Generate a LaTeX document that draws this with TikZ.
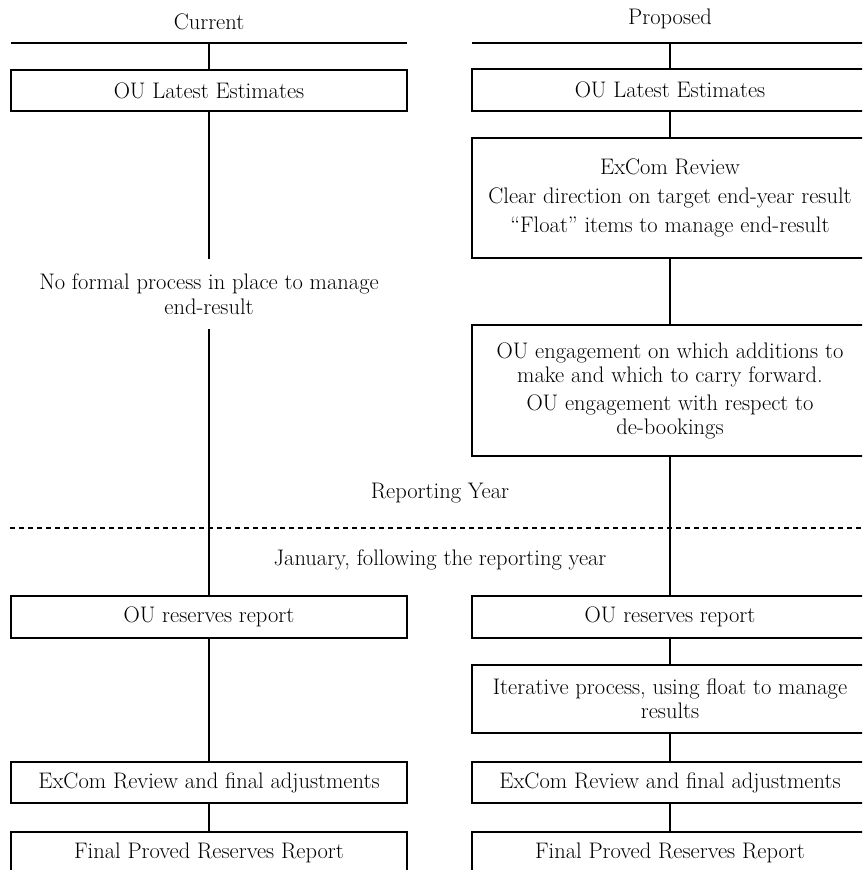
\documentclass[tikz,border=0pt]{standalone}
\newcommand\txtsize{\fontsize{22.5}{24}\selectfont}
\begin{document}
\begin{tikzpicture}[x=1pt,y=-1pt,
  box/.style={draw, line width=1.5pt, minimum width=396pt, align=center, inner sep=0pt, font=\txtsize},
  conn/.style={line width=1.3pt},
  lbl/.style={align=center, inner sep=0pt, font=\txtsize},
  divider/.style={line width=1.1pt, dash pattern=on 5pt off 4pt}]
\clip (0,0) rectangle (862,870);
% headings
\node[lbl] (curr) at (209,22) {Current};
\node[lbl] (prop) at (670,19) {Proposed};
\coordinate (hL1) at (11,43);
\coordinate (hL2) at (407,43);
\coordinate (hLc) at (209,43);
\coordinate (hR1) at (472,43);
\coordinate (hR2) at (868,43);
\coordinate (hRc) at (670,43);
\draw[conn, line width=1.5pt] (hL1) -- (hL2);
\draw[conn, line width=1.5pt] (hR1) -- (hR2);
% current column
\node[box, minimum height=41pt] (L1) at (209,90.5) {OU Latest Estimates};
\node[lbl, minimum height=70pt] (L2) at (209,294) {No formal process in place to manage\\[1pt]end-result};
\node[box, minimum height=42pt] (L3) at (209,617) {OU reserves report};
\node[box, minimum height=41pt] (L4) at (209,782.5) {ExCom Review and final adjustments};
\node[box, minimum height=42pt] (L5) at (209,853) {Final Proved Reserves Report};
% proposed column
\node[box, minimum height=42pt] (R1) at (670,90) {OU Latest Estimates};
\node[box, minimum height=120pt] (R2) at (670,198) {ExCom Review\\[5pt]Clear direction on target end-year result\\[5pt]``Float'' items to manage end-result};
\node[box, minimum height=131pt] (R3) at (670,390.5) {OU engagement on which additions to\\make and which to carry forward.\\[4pt]OU engagement with respect to\\de-bookings};
\node[box, minimum height=42pt] (R4) at (670,617) {OU reserves report};
\node[box, minimum height=68pt] (R5) at (670,699) {Iterative process, using float to manage\\results};
\node[box, minimum height=41pt] (R6) at (670,782.5) {ExCom Review and final adjustments};
\node[box, minimum height=42pt] (R7) at (670,853) {Final Proved Reserves Report};
% connectors
\draw[conn] (hLc) -- (L1);
\draw[conn] (L1) -- (L2);
\draw[conn] (L2) -- (L3);
\draw[conn] (L3) -- (L4);
\draw[conn] (L4) -- (L5);
\draw[conn] (hRc) -- (R1);
\draw[conn] (R1) -- (R2);
\draw[conn] (R2) -- (R3);
\draw[conn] (R3) -- (R4);
\draw[conn] (R4) -- (R5);
\draw[conn] (R5) -- (R6);
\draw[conn] (R6) -- (R7);
% year divider
\node[lbl] (ry) at (440,493) {Reporting Year};
\node[lbl] (jan) at (440,560) {January, following the reporting year};
\coordinate (dL) at (10,528);
\coordinate (dR) at (862,528);
\draw[divider] (dL) -- (dR);
\end{tikzpicture}
\end{document}
